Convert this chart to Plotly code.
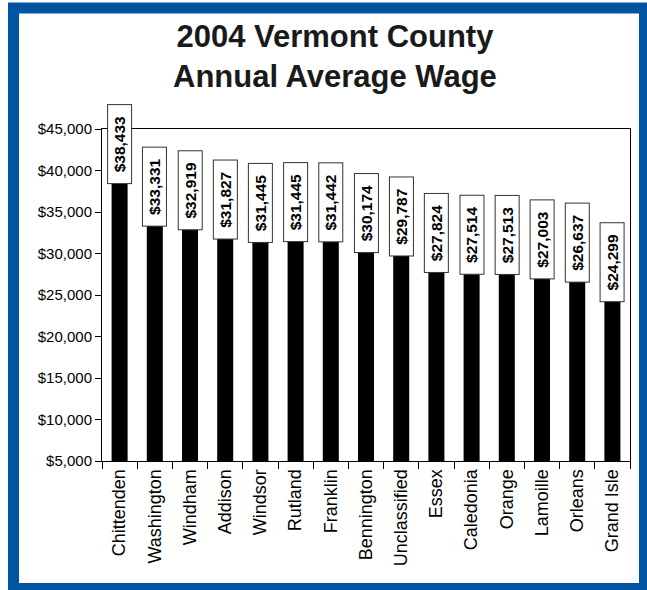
import plotly.graph_objects as go

counties = ["Chittenden", "Washington", "Windham", "Addison", "Windsor", "Rutland",
            "Franklin", "Bennington", "Unclassified", "Essex", "Caledonia", "Orange",
            "Lamoille", "Orleans", "Grand Isle"]
wages = [38433, 33331, 32919, 31827, 31445, 31445, 31442, 30174, 29787,
         27824, 27514, 27513, 27003, 26637, 24299]
y_ticks = [5000, 10000, 15000, 20000, 25000, 30000, 35000, 40000, 45000]
y_labels = [f"${v:,}" for v in y_ticks]

W, H = 647, 590
L, R, T, B = 102, 17, 129, 129
pw, ph = W - L - R, H - T - B


def px_x(x):
    return (x - L) / pw


def px_y(y):
    return (H - B - y) / ph


fig = go.Figure(go.Bar(
    x=counties, y=wages,
    marker=dict(color="black", line=dict(width=0)),
    hoverinfo="x+y",
))

sp = "\u2002"
for c, v in zip(counties, wages):
    fig.add_annotation(
        x=c, y=v, xref="x", yref="y",
        text=f"{sp}${v:,}{sp}", showarrow=False,
        textangle=-90, yanchor="bottom", xanchor="center",
        font=dict(family="Arial", size=15.5, color="black", weight="bold"),
        bgcolor="white", bordercolor="#333333", borderwidth=1, borderpad=3,
        yshift=-1,
    )

# title
fig.add_annotation(
    text="2004 Vermont County<br>Annual Average Wage",
    xref="paper", yref="paper", x=px_x(335), y=px_y(57),
    xanchor="center", yanchor="middle", showarrow=False,
    font=dict(family="Arial", size=31, color="#1a1a1a", weight="bold"),
)

# blue frame around the whole picture
fig.add_shape(type="rect", xref="paper", yref="paper",
              x0=px_x(13.5), x1=px_x(644.5), y0=px_y(588.5), y1=px_y(8),
              line=dict(color="#0054A0", width=11), fillcolor="rgba(0,0,0,0)",
              layer="below")

fig.update_layout(
    width=W, height=H,
    margin=dict(l=L, r=R, t=T, b=B),
    paper_bgcolor="white", plot_bgcolor="white",
    bargap=0.545,
    showlegend=False,
    font=dict(family="Arial", color="black"),
)
fig.update_xaxes(
    showline=True, linecolor="black", linewidth=1, mirror=True,
    ticks="outside", ticklen=7, tickcolor="black", tickson="boundaries",
    tickangle=-90, tickfont=dict(size=18, color="black"),
    showgrid=False, automargin=False,
)
fig.update_yaxes(
    range=[5000, 45000], tickvals=y_ticks, ticktext=y_labels,
    showline=True, linecolor="black", linewidth=1, mirror=True,
    ticks="outside", ticklen=6, tickcolor="black",
    tickfont=dict(size=15, color="black"),
    showgrid=False, zeroline=False, automargin=False,
)

fig.write_html("out.html", config={"displayModeBar": False},
               post_script="document.body.style.margin='0';")
